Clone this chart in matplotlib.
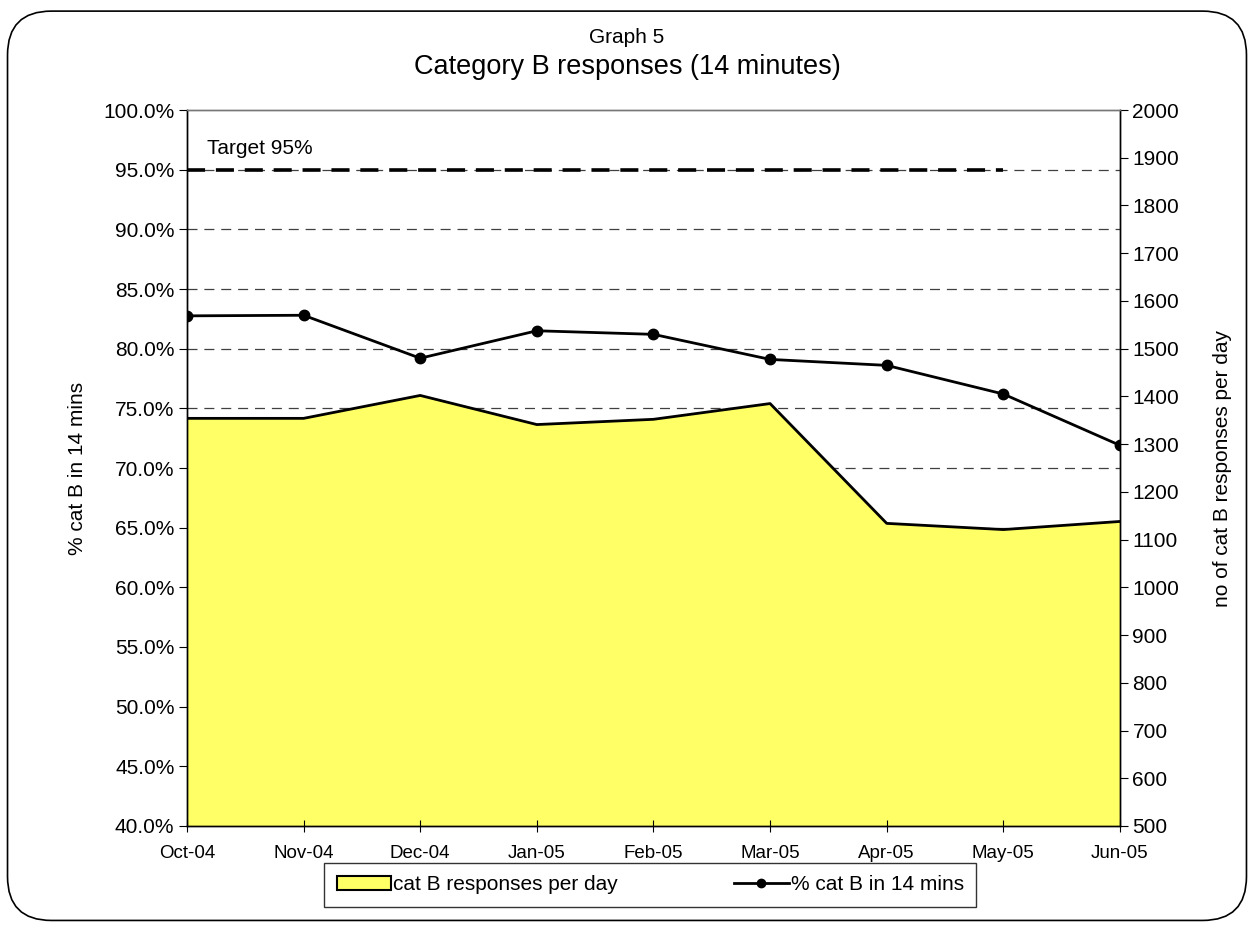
import matplotlib
matplotlib.use("Agg")
import matplotlib.pyplot as plt
from matplotlib.patches import FancyBboxPatch, Patch
from matplotlib.lines import Line2D
from matplotlib.ticker import FuncFormatter, MultipleLocator

plt.rcParams['font.family'] = ['Liberation Sans', 'DejaVu Sans']

months = ["Oct-04", "Nov-04", "Dec-04", "Jan-05", "Feb-05", "Mar-05", "Apr-05", "May-05", "Jun-05"]
responses_per_day = [1354, 1354, 1402, 1341, 1352, 1385, 1134, 1121, 1138]
pct_in_14 = [82.75, 82.8, 79.2, 81.5, 81.2, 79.1, 78.6, 76.2, 71.9]
target = 95.0
target_months = months[:8]
grid_levels = [45, 50, 55, 60, 65, 70, 75, 80, 85, 90, 95]

fig = plt.figure(figsize=(12.54, 9.26), dpi=100)
border = FancyBboxPatch((0.006, 0.006), 0.988, 0.982, boxstyle="round,pad=0,rounding_size=0.035",
                        transform=fig.transFigure, fill=False, edgecolor='black', linewidth=1.2,
                        mutation_aspect=1254/926)
fig.patches.append(border)

ax = fig.add_axes([0.1491, 0.1080, 0.7440, 0.7732])
ax2 = ax.twinx()
x = list(range(len(months)))

ax.set_ylim(40, 100)
ax.set_xlim(0, len(months) - 1)
ax2.set_ylim(500, 2000)

# gridlines (left-axis levels) drawn beneath the area
for yv in grid_levels:
    ax2.plot([0, 1], [yv, yv], transform=ax.get_yaxis_transform(), color='#404040',
             linestyle=(0, (8, 5.5)), linewidth=0.9, zorder=0)

# area on secondary axis
ax2.fill_between(x, 500, responses_per_day, color='#ffff66', zorder=1, linewidth=0)
ax2.plot(x, responses_per_day, color='black', linewidth=2, zorder=2)
ax2.yaxis.set_major_locator(MultipleLocator(100))
ax2.set_ylabel("no of cat B responses per day", fontsize=15, labelpad=24)

# left axis drawn on top
ax.set_zorder(ax2.get_zorder() + 1)
ax.patch.set_visible(False)
ax.yaxis.set_major_locator(MultipleLocator(5))
ax.yaxis.set_major_formatter(FuncFormatter(lambda v, p: f"{v:.1f}%"))
ax.plot(x, pct_in_14, color='black', linewidth=2, marker='o', markersize=7.5, zorder=4)
tx = [months.index(m) for m in target_months]
ax.plot(tx, [target] * len(tx), color='black', linewidth=2.6, linestyle=(0, (5, 3)), zorder=3)
ax.text(0.17, 96.0, "Target 95%", fontsize=15, ha='left', va='bottom')
ax.set_ylabel("% cat B in 14 mins", fontsize=15, labelpad=12)

ax.set_xticks(x)
ax.set_xticklabels(months)
ax.tick_params(axis='x', direction='inout', length=9, labelsize=13.5, pad=9)
ax.tick_params(axis='y', direction='out', length=6, labelsize=15, pad=3)
ax2.tick_params(axis='y', direction='out', length=6, labelsize=15, pad=3)

for a in (ax, ax2):
    a.spines['top'].set_color('#777777')
    a.spines['top'].set_linewidth(1)
    a.spines['left'].set_linewidth(1)
    a.spines['right'].set_linewidth(1)
    a.spines['bottom'].set_linewidth(1)

fig.text(0.5, 0.960, "Graph 5", ha='center', va='center', fontsize=15)
fig.text(0.5, 0.928, "Category B responses (14 minutes)", ha='center', va='center', fontsize=19.5)

handles = [Patch(facecolor='#ffff66', edgecolor='black', linewidth=1.5),
           Line2D([0], [0], color='black', marker='o', markersize=6, linewidth=2)]
fig.legend(handles, ["cat B responses per day", "% cat B in 14 mins"], loc='center',
           bbox_to_anchor=(0.5185, 0.0443), ncol=2, frameon=True, fancybox=False,
           edgecolor='black', fontsize=15, handlelength=2.6, columnspacing=5.6,
           borderpad=0.6, handletextpad=0.1, borderaxespad=0)

fig.savefig("out.png", dpi=100)
